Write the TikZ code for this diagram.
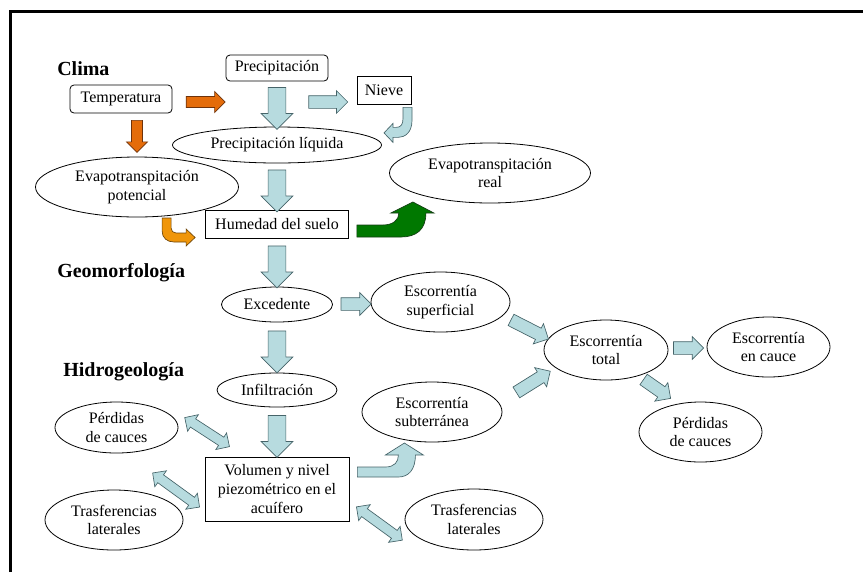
\documentclass[tikz,border=0pt]{standalone}
\usepackage{fontspec}
\setmainfont{Liberation Serif}
\usetikzlibrary{shapes.geometric,shapes.arrows,calc}

\definecolor{aguafill}{RGB}{183,219,223}
\definecolor{agualine}{RGB}{70,100,105}
\definecolor{naranja}{RGB}{228,108,10}
\definecolor{naranjaline}{RGB}{110,50,10}
\definecolor{ambar}{RGB}{240,150,10}
\definecolor{ambarline}{RGB}{110,70,10}
\definecolor{verde}{RGB}{0,120,0}
\definecolor{verdeline}{RGB}{20,60,20}

\begin{document}
\begin{tikzpicture}[x=0.75pt, y=-0.75pt,
   texto/.style={font=\fontsize{12}{14}\selectfont, align=center, inner sep=1pt},
   titulo/.style={anchor=base west, inner sep=0pt, font=\fontsize{15}{17}\selectfont\bfseries},
   caja/.style={texto, draw, line width=0.6pt},
   redonda/.style={caja, rounded corners=3pt},
   elipse/.style={texto, ellipse, draw, line width=0.6pt, inner sep=0pt},
   flecha/.style={single arrow, draw=agualine, fill=aguafill, line width=0.5pt, inner xsep=0pt, inner ysep=6.4pt, single arrow head extend=5.25pt, single arrow tip angle=90, minimum height=31.5pt},
   flechita/.style={flecha, inner ysep=4.5pt, single arrow head extend=3.75pt},
   naranjo/.style={flechita, draw=naranjaline, fill=naranja, inner ysep=3.9pt, single arrow head extend=3.75pt},
   doble/.style={double arrow, draw=agualine, fill=aguafill, line width=0.5pt, inner xsep=0pt, inner ysep=3.4pt, double arrow head extend=3.75pt, double arrow tip angle=90},
   curva/.style={draw=agualine, fill=aguafill, line width=0.5pt}]
   \useasboundingbox (0,0) rectangle (863,572);

   % Frame
   \draw[line width=2.25pt] (10.5,572) -- (10.5,11.5) -- (863,11.5);

   % Section titles
   \node[titulo] (clima) at (57,75) {Clima};
   \node[titulo] (geo) at (57,277) {Geomorfología};
   \node[titulo] (hidro) at (63,376) {Hidrogeología};

   % Clima
   \node[redonda, minimum width=76.5pt, minimum height=19.5pt] (prec) at (277,68) {Precipitación};
   \node[redonda, minimum width=76.5pt, minimum height=21pt] (temp) at (121,99) {Temperatura};
   \node[caja, minimum width=40.5pt, minimum height=21pt] (nieve) at (384,90.5) {Nieve};
   \node[elipse, minimum width=156.75pt, minimum height=27pt] (liq) at (277,145) {Precipitación líquida};
   \node[elipse, minimum width=152.25pt, minimum height=45pt] (evpot) at (137,187) {Evapotranspitación\\potencial};
   \node[elipse, minimum width=150.75pt, minimum height=45pt] (ereal) at (490,173) {Evapotranspitación\\real};
   \node[caja, minimum width=107.25pt, minimum height=21pt] (hum) at (277,224) {Humedad del suelo};

   % Geomorfologia
   \node[elipse, minimum width=83.25pt, minimum height=26.25pt] (exc) at (277,304.5) {Excedente};
   \node[elipse, minimum width=104.25pt, minimum height=45pt] (esup) at (440.5,302) {Escorrentía\\superficial};
   \node[elipse, minimum width=93pt, minimum height=45pt] (etot) at (606,350) {Escorrentía\\total};
   \node[elipse, minimum width=92.25pt, minimum height=45pt] (ecau) at (768.5,347) {Escorrentía\\en cauce};
   \node[elipse, minimum width=92.25pt, minimum height=45pt] (perd2) at (700.5,432) {Pérdidas\\de cauces};

   % Hidrogeologia
   \node[elipse, minimum width=90pt, minimum height=25.5pt] (inf) at (277,390) {Infiltración};
   \node[elipse, minimum width=105pt, minimum height=45pt] (esub) at (432,412) {Escorrentía\\subterránea};
   \node[elipse, minimum width=92.25pt, minimum height=38.25pt] (perd1) at (116.5,427.5) {Pérdidas\\de cauces};
   \node[caja, minimum width=108pt, minimum height=48pt] (vol) at (277,489) {Volumen y nivel\\piezométrico en el\\acuífero};
   \node[elipse, minimum width=103.5pt, minimum height=45pt] (tras1) at (114,520) {Trasferencias\\laterales};
   \node[elipse, minimum width=103.5pt, minimum height=45.75pt] (tras2) at (474,519.5) {Trasferencias\\laterales};

   % Vertical flow
   \path (prec) -- node[flecha, sloped, allow upside down] {} (liq);
   \path (liq) -- node[flecha, sloped, allow upside down] {} (hum);
   \path (hum) -- node[flecha, sloped, allow upside down] {} (exc);
   \path (exc) -- node[flecha, sloped, allow upside down] {} (inf);
   \path (inf) -- node[flecha, sloped, allow upside down] {} (vol);

   % Temperature arrows
   \node[naranjo, minimum height=29.25pt] (t1) at ($(temp.east)+(30.5,3)$) {};
   \node[naranjo, minimum height=24pt, rotate=-90] (t2) at ($(evpot.north)+(0,-23)$) {};

   % Side arrows
   \node[flechita, minimum height=29.25pt] (a1) at ($(nieve.west)+(-31.5,11.5)$) {};
   \node[flechita, minimum height=22.5pt] (a2) at ($(exc.east)+(20,-0.5)$) {};
   \node[flechita, minimum height=31.5pt, rotate=-27] (a3) at ($(esup.east)+(16.5,26)$) {};
   \node[flechita, minimum height=30pt, rotate=32] (a4) at ($(etot.west)+(-13,33.5)$) {};
   \node[flechita, minimum height=22.5pt] (a5) at ($(etot.east)+(17,-2)$) {};
   \node[flechita, minimum height=24.75pt, rotate=-35] (a6) at ($(perd2.north)+(-46,-14.5)$) {};

   % Exchanges with the aquifer
   \node[doble, minimum height=40pt, rotate=-33] (d1) at ($(vol.north west)+(2.5,-24.5)$) {};
   \node[doble, minimum height=43.5pt, rotate=-36] (d2) at ($(vol.west)+(-28.5,1)$) {};
   \node[doble, minimum height=42.5pt, rotate=-36] (d3) at ($(vol.east)+(30,34.5)$) {};

   % Curved arrows
   \filldraw[curva, shift={(nieve.south)}] (19,2.5) -- (28,2.5) -- (28,15.5) .. controls (28,27.5) and (21,32.5) .. (14,32.5) -- (9,32.5) -- (9,37.5) -- (0,28) -- (9,18.5) -- (9,22.5) -- (12,22.5) .. controls (17,22.5) and (19,19.5) .. (19,13.5) -- cycle;
   \filldraw[draw=ambarline, fill=ambar, line width=0.5pt, shift={(hum.west)}] (-43,-6) -- (-34,-6) -- (-34,4) .. controls (-34,7) and (-32,9) .. (-29,9) -- (-19,9) -- (-19,5) -- (-10,13.5) -- (-19,22) -- (-19,18) -- (-31,18) .. controls (-38,18) and (-43,14) .. (-43,7) -- cycle;
   \filldraw[draw=verdeline, fill=verde, line width=0.5pt, shift={(hum.east)}] (8,1) -- (34,1) .. controls (44,1) and (50,-4) .. (50,-11) -- (42,-11) -- (64,-22) -- (85,-11) -- (77,-11) .. controls (77,6) and (67,13) .. (52,13) -- (8,13) -- cycle;
   \filldraw[curva, shift={(vol.east)}] (8,-22) -- (36,-22) .. controls (45,-22) and (49,-27) .. (49,-34) -- (36,-34) -- (55,-46) -- (74,-34) -- (66,-34) .. controls (66,-19) and (59,-12) .. (49,-12) -- (8,-12) -- cycle;

\end{tikzpicture}
\end{document}
